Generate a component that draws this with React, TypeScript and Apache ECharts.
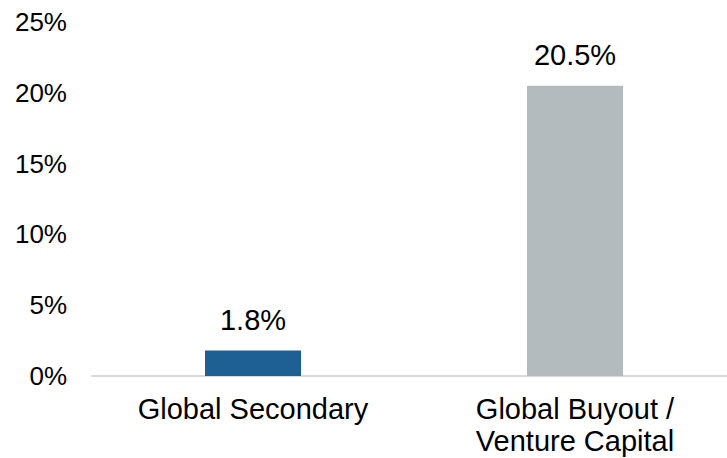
import React, { useEffect, useRef } from "react";
import * as echarts from "echarts";

const categories = ["Global Secondary", "Global Buyout /\nVenture Capital"];
const values = [1.8, 20.5];
const barColors = ["#1F6094", "#B3BBBF"];
const yTicks = [0, 5, 10, 15, 20, 25];

export default function App() {
  const ref = useRef<HTMLDivElement>(null);
  useEffect(() => {
    const chart = echarts.init(ref.current!, undefined, { renderer: "svg" });
    const font = "Liberation Sans, Arial, sans-serif";
    chart.setOption({
      animation: false,
      backgroundColor: "#ffffff",
      grid: {
        left: 92,
        width: 644,
        top: 22,
        bottom: 82,
        containLabel: false,
        outerBoundsMode: "none",
      },
      xAxis: {
        type: "category",
        data: categories,
        axisLine: { show: true, lineStyle: { color: "#D9D9D9", width: 2 } },
        axisTick: { show: false },
        axisLabel: {
          color: "#000",
          fontFamily: font,
          fontSize: 29,
          lineHeight: 32,
          margin: 17,
          interval: 0,
        },
      },
      yAxis: {
        type: "value",
        min: yTicks[0],
        max: yTicks[yTicks.length - 1],
        interval: 5,
        axisLine: { show: false },
        axisTick: { show: false },
        splitLine: { show: false },
        axisLabel: {
          color: "#000",
          fontFamily: font,
          fontSize: 26,
          margin: 25,
          formatter: (v: number) => `${v}%`,
        },
      },
      series: [
        {
          type: "bar",
          barWidth: 96,
          data: values.map((v, i) => ({ value: v, itemStyle: { color: barColors[i] } })),
          label: {
            show: true,
            position: "top",
            distance: 16,
            color: "#000",
            fontFamily: font,
            fontSize: 29,
            formatter: (p: any) => `${p.value.toFixed(1)}%`,
          },
        },
      ],
    });
    return () => chart.dispose();
  }, []);
  return <div ref={ref} style={{ width: 727, height: 458, position: "absolute", left: 0, top: 0 }} />;
}
